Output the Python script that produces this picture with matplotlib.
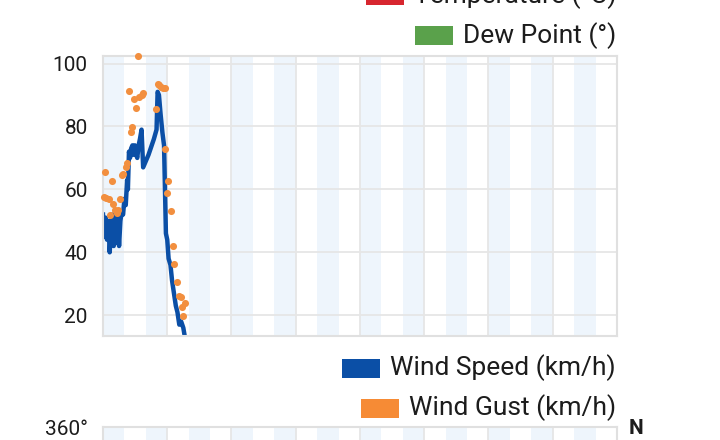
import numpy as np
import matplotlib
matplotlib.use("Agg")
import matplotlib.pyplot as plt
from matplotlib.patches import Rectangle

plt.rcParams['font.family'] = ['Roboto', 'DejaVu Sans']

# wind speed (km/h), hours since start of the chart
speed_hours = [0.0, 0.5, 1.0, 1.5, 2.0, 2.5, 3.0, 3.5, 4.0, 4.5, 5.0, 5.5, 6.0,
               6.5, 7.0, 7.5, 8.0, 8.5, 9.0, 9.3, 9.7, 10.1, 10.5, 11.0, 11.4,
               11.9, 12.4, 12.8, 13.3, 13.8, 14.4, 15.0, 17.0, 19.0, 20.0, 20.4,
               20.9, 21.5, 22.2, 22.8, 23.5, 24.0, 24.5, 25.2, 25.8, 26.5, 27.2,
               27.8, 28.5, 29.2, 30.0, 30.6]
speed_values = [52, 45, 51, 44, 50, 40, 47, 52, 42, 51, 43, 52, 42,
                50, 53, 52, 57, 55, 63, 60, 72, 70, 73, 74, 71,
                74, 71, 70, 74, 76, 79, 67, 71, 76, 79, 91,
                90, 84, 78, 74, 46, 44, 38, 36, 31, 27, 23,
                21, 17, 18, 16, 13]

# wind gust (km/h)
gust_hours = [0.3, 0.9, 1.2, 2.2, 2.6, 3.2, 3.8, 4.6, 5.1, 5.7, 6.4, 7.0, 7.6,
              8.5, 9.1, 9.8, 10.4, 10.9, 11.6, 12.5, 13.2, 13.5, 14.4, 15.1,
              19.9, 20.4, 21.1, 21.6, 22.3, 23.1, 23.2, 23.8, 24.4, 25.4, 26.0,
              26.7, 27.5, 28.4, 29.2, 29.6, 30.0, 30.6]
gust_values = [57.6, 65.5, 57.2, 57.0, 51.8, 62.6, 55.3, 53.4, 52.5, 53.4, 56.8,
               64.6, 65.0, 67.1, 68.4, 91.3, 78.1, 79.8, 88.6, 85.9, 102.3, 89.4,
               90.1, 90.5, 85.4, 93.6, 93.1, 92.6, 92.3, 92.1, 72.7, 59.0, 62.6,
               53.1, 42.0, 36.2, 30.6, 26.0, 25.8, 22.6, 19.8, 24.0]

y_ticks = [20, 40, 60, 80, 100]
legend_top = ['Temperature (°C)', 'Dew Point (°)']
legend_top_colors = ['#d7262f', '#5aa14b']
legend_wind = ['Wind Speed (km/h)', 'Wind Gust (km/h)']
legend_wind_colors = ['#0b4fa6', '#f68b35']

W, H = 720, 440
fig = plt.figure(figsize=(W / 100, H / 100), dpi=100)


def fx(px):
    return px / W


def fy(py):
    return 1 - py / H


band_color = '#eef5fc'
grid_color = '#e6e6e6'
frame_color = '#e0e0e0'
text_color = '#1c1c1c'


def style_panel(a):
    # night bands every 16h, 8h wide, day grid every 24h
    for s in np.arange(0, 192, 16):
        a.axvspan(s, s + 8, color=band_color, lw=0, zorder=0)
    a.set_xlim(0, 192)
    a.set_xticks(np.arange(0, 193, 24))
    a.xaxis.grid(True, color=grid_color, lw=1.3)
    a.tick_params(axis='x', length=0, labelbottom=False)
    a.tick_params(axis='y', length=0, pad=11, labelsize=15, labelcolor=text_color)
    for sp in a.spines.values():
        sp.set_color(frame_color)
        sp.set_linewidth(1.5)
    a.set_axisbelow(True)


# main wind panel
ax = fig.add_axes([fx(103), fy(336), fx(617) - fx(103), fy(56) - fy(336)])
style_panel(ax)
ax.set_ylim(13.4, 102.4)
ax.set_yticks(y_ticks)
ax.yaxis.grid(True, color=grid_color, lw=1.3)

ax.plot(speed_hours, speed_values, color=legend_wind_colors[0], lw=3.2,
        solid_joinstyle='round', zorder=2)
ax.scatter(gust_hours, gust_values, s=26, color='#f28f3f', linewidths=0,
           zorder=3, clip_on=False)

# top of the direction panel below
ax2 = fig.add_axes([fx(103), fy(427 + 300), fx(617) - fx(103), 300 / H])
style_panel(ax2)
ax2.set_ylim(0, 360)
ax2.set_yticks([360])
ax2.set_yticklabels(['360°'])
fig.text(fx(636), fy(428), 'N', ha='center', va='center', fontsize=15,
         fontweight='bold', color=text_color)

# legends, right aligned like the app
fig.canvas.draw()
renderer = fig.canvas.get_renderer()


def legend_row(label, color, y_center):
    t = fig.text(fx(616), fy(y_center), label, ha='right', va='center',
                 fontsize=19, color=text_color)
    bb = t.get_window_extent(renderer)
    x0 = bb.x0 - 10 - 38
    fig.patches.append(Rectangle((x0 / W, (H - y_center - 9.5) / H), 38 / W, 19 / H,
                                 transform=fig.transFigure, color=color, lw=0))


legend_row(legend_top[0], legend_top_colors[0], -4)
legend_row(legend_top[1], legend_top_colors[1], 36)
legend_row(legend_wind[0], legend_wind_colors[0], 368)
legend_row(legend_wind[1], legend_wind_colors[1], 408)

fig.savefig('out.png', dpi=100)
